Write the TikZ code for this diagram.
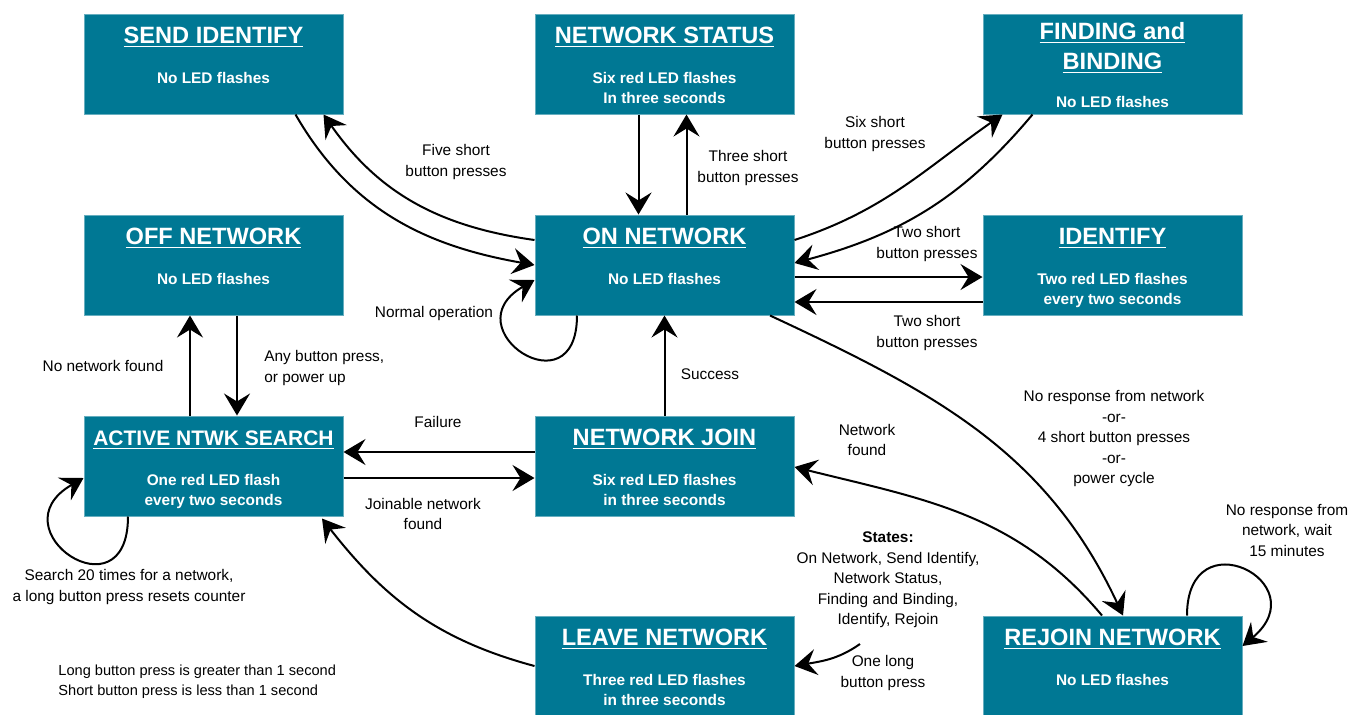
\documentclass[tikz,border=0pt]{standalone}
\usepackage{fontspec}
\setmainfont{Liberation Sans}
\usetikzlibrary{arrows.meta,calc}
\definecolor{boxteal}{RGB}{0,120,148}

\begin{document}
\begin{tikzpicture}[x=0.5pt,y=0.5pt,
  statebox/.style={rectangle, fill=boxteal, draw=boxteal!60!white, line width=0.5pt, minimum width=129.5pt, minimum height=50pt, inner sep=0pt},
  stitle/.style={anchor=base, text=white, align=center, inner sep=0pt, font=\fontsize{11.8}{15}\selectfont\bfseries},
  sbody/.style={anchor=base, text=white, align=center, inner sep=0pt, font=\fontsize{7.7}{10}\selectfont\bfseries},
  lbl/.style={align=center, inner sep=0pt, font=\fontsize{7.7}{10.25}\selectfont},
  conn/.style={-{Stealth[length=11pt,width=13pt,inset=4pt]}, line width=1pt}]
\useasboundingbox (0,0) rectangle (1351,-714);

% states (base = baseline of the last line)
\node[statebox] (si) at (213.5,-64) {};
\node[stitle] (si-t) at ($(si.north)+(0,-30)$) {\underline{SEND IDENTIFY}};
\node[sbody] (si-b) at ($(si.north)+(0,-70)$) {No LED flashes};

\node[statebox] (ns) at (664.5,-64) {};
\node[stitle] (ns-t) at ($(ns.north)+(0,-30)$) {\underline{NETWORK STATUS}};
\node[sbody] (ns-b) at ($(ns.north)+(0,-90)$) {Six red LED flashes\\In three seconds};

\node[statebox] (fb) at (1112.5,-64) {};
\node[stitle] (fb-t) at ($(fb.north)+(0,-56)$) {\underline{FINDING and}\\\underline{BINDING}};
\node[sbody] (fb-b) at ($(fb.north)+(0,-94)$) {No LED flashes};

\node[statebox] (off) at (213.5,-265) {};
\node[stitle] (off-t) at ($(off.north)+(0,-30)$) {\underline{OFF NETWORK}};
\node[sbody] (off-b) at ($(off.north)+(0,-70)$) {No LED flashes};

\node[statebox] (on) at (664.5,-265) {};
\node[stitle] (on-t) at ($(on.north)+(0,-30)$) {\underline{ON NETWORK}};
\node[sbody] (on-b) at ($(on.north)+(0,-70)$) {No LED flashes};

\node[statebox] (id) at (1112.5,-265) {};
\node[stitle] (id-t) at ($(id.north)+(0,-30)$) {\underline{IDENTIFY}};
\node[sbody] (id-b) at ($(id.north)+(0,-90)$) {Two red LED flashes\\every two seconds};

\node[statebox] (ans) at (213.5,-466) {};
\node[stitle, font=\fontsize{10.5}{13}\selectfont\bfseries] (ans-t) at ($(ans.north)+(0,-30)$) {\underline{ACTIVE NTWK SEARCH}};
\node[sbody] (ans-b) at ($(ans.north)+(0,-90)$) {One red LED flash\\every two seconds};

\node[statebox] (nj) at (664.5,-466) {};
\node[stitle] (nj-t) at ($(nj.north)+(0,-30)$) {\underline{NETWORK JOIN}};
\node[sbody] (nj-b) at ($(nj.north)+(0,-90)$) {Six red LED flashes\\in three seconds};

\node[statebox] (ln) at (664.5,-666) {};
\node[stitle] (ln-t) at ($(ln.north)+(0,-30)$) {\underline{LEAVE NETWORK}};
\node[sbody] (ln-b) at ($(ln.north)+(0,-90)$) {Three red LED flashes\\in three seconds};

\node[statebox] (rj) at (1112.5,-666) {};
\node[stitle] (rj-t) at ($(rj.north)+(0,-30)$) {\underline{REJOIN NETWORK}};
\node[sbody] (rj-b) at ($(rj.north)+(0,-70)$) {No LED flashes};

% transitions
\draw[conn] ($(on.west)+(0,25)$) to[out=172,in=-55] ($(si.south)+(110,0)$);
\draw[conn] ($(si.south)+(82,0)$) to[out=-60,in=170] (on.west);
\draw[conn] ($(ns.south)+(-26,0)$) -- ($(on.north)+(-26,0)$);
\draw[conn] ($(on.north)+(22,0)$) -- ($(ns.south)+(22,0)$);
\draw[conn] ($(on.east)+(0,25)$) to[out=18,in=215] ($(fb.south)+(-110,0)$);
\draw[conn] ($(fb.south)+(-80,0)$) to[out=-130,in=15] ($(on.east)+(0,2)$);
\draw[conn] ($(on.east)+(0,-12)$) -- ($(id.west)+(0,-12)$);
\draw[conn] ($(id.west)+(0,-37)$) -- ($(on.east)+(0,-37)$);
\draw[conn] ($(on.south)+(-87.5,0)$) to[out=-90,in=210,looseness=4.5] ($(on.west)+(0,-15)$);
\draw[conn] ($(ans.north)+(-23.5,0)$) -- ($(off.south)+(-23.5,0)$);
\draw[conn] ($(off.south)+(23.5,0)$) -- ($(ans.north)+(23.5,0)$);
\draw[conn] ($(nj.west)+(0,14)$) -- ($(ans.east)+(0,14)$);
\draw[conn] ($(ans.east)+(0,-12)$) -- ($(nj.west)+(0,-12)$);
\draw[conn] (nj.north) -- (on.south);
\draw[conn] ($(ans.south)+(-85.5,0)$) to[out=-90,in=210,looseness=4.5] ($(ans.west)+(0,-12)$);
\draw[conn] (ln.west) to[out=165,in=-52] ($(ans.south)+(108.5,-2)$);
\draw[conn] ($(on.south)+(105.5,0)$) to[out=-25,in=115] ($(rj.north)+(10.5,0)$);
\draw[conn] ($(rj.north)+(-10.5,0)$) to[out=130,in=-14] ($(nj.east)+(0,-1)$);
\draw[conn] ($(rj.north)+(74.5,0)$) to[out=90,in=40,looseness=4] ($(rj.east)+(0,20)$);
\coordinate (st-end) at (860,-644);
\draw[conn] (st-end) to[out=-145,in=10] (ln.east);

% labels
\node[lbl] (l-five) at (456,-162) {Five short\\button presses};
\node[lbl] (l-three) at (748,-168) {Three short\\button presses};
\node[lbl] (l-six) at (875,-134) {Six short\\button presses};
\node[lbl] (l-two-a) at (927,-244) {Two short\\button presses};
\node[lbl] (l-two-b) at (927,-333) {Two short\\button presses};
\node[lbl] (l-normal) at (434,-314) {Normal operation};
\node[lbl] (l-nonet) at (103,-366) {No network found};
\node[lbl, anchor=west, align=left] (l-any) at (264,-368) {Any button press,\\or power up};
\node[lbl] (l-success) at (710,-374) {Success};
\node[lbl] (l-fail) at (438,-422) {Failure};
\node[lbl] (l-join) at (423,-514) {Joinable network\\found};
\node[lbl] (l-found) at (867,-440) {Network\\found};
\node[lbl] (l-noresp) at (1114,-439) {No response from network\\-or-\\4 short button presses\\-or-\\power cycle};
\node[lbl] (l-wait) at (1287,-530) {No response from\\network, wait\\15 minutes};
\node[lbl] (l-search) at (129,-587) {Search 20 times for a network,\\a long button press resets counter};
\node[lbl] (l-states) at (888,-580) {\textbf{States:}\\On Network, Send Identify,\\Network Status,\\Finding and Binding,\\Identify, Rejoin};
\node[lbl] (l-long) at (883,-673) {One long\\button press};
\node[lbl, anchor=west, align=left, font=\fontsize{7.3}{10}\selectfont] (l-note) at (58,-682) {Long button press is greater than 1 second\\Short button press is less than 1 second};
\end{tikzpicture}
\end{document}
